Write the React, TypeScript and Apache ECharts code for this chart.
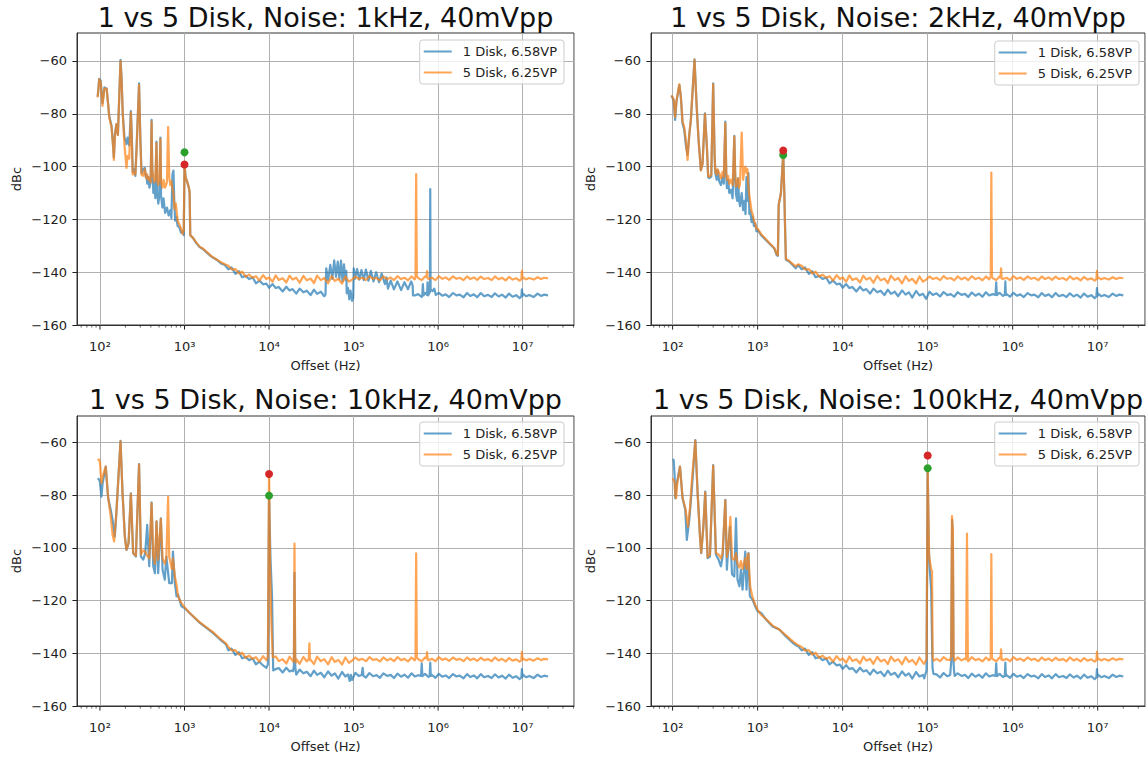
import React, { useEffect, useRef } from 'react';
import * as echarts from 'echarts';

type P = [number, number];

const NAME_1 = '1 Disk, 6.58VP';
const NAME_5 = '5 Disk, 6.25VP';
const BLUE = 'rgba(31,119,180,0.7)';
const ORANGE = 'rgba(255,127,14,0.7)';
const GREEN = '#2ca02c';
const RED = '#d62728';

const TITLES = [
  '1 vs 5 Disk, Noise: 1kHz, 40mVpp',
  '1 vs 5 Disk, Noise: 2kHz, 40mVpp',
  '1 vs 5 Disk, Noise: 10kHz, 40mVpp',
  '1 vs 5 Disk, Noise: 100kHz, 40mVpp',
];
const X_NAME = 'Offset (Hz)';
const Y_NAME = 'dBc';
const Y_TICKS = [-160, -140, -120, -100, -80, -60];
const DECADES = [10, 100, 1000, 10000, 100000, 1000000, 10000000];
const MINOR_MULTS = [2, 3, 4, 5, 6, 7, 8, 9];

const MARKER_FREQ = [1000, 2000, 10000, 100000];
const GREEN_DB = [-94.6, -95.6, -80.2, -69.8];
const RED_DB = [-99.2, -93.9, -72.0, -65.0];

// shared noise floors (3 kHz .. 20 MHz)
const BLUE_FLOOR: P[] = [
  [3000, -137.3], [3300, -138.9], [3600, -138.2], [4000, -140.6], [4400, -139.6], [4800, -141.9], [5300, -141.4], [5800, -142.6], [6400, -142.0], [7000, -144.2], [7700, -143.2], [8500, -144.6], [9300, -144.3], [10000, -145.9],
  [11000, -144.5], [12000, -146.0], [13000, -145.6], [14500, -147.3], [16000, -145.5], [17500, -146.9], [19000, -146.4], [21000, -148.1], [23000, -146.2], [25500, -147.6], [28000, -147.0], [31000, -148.7], [34000, -146.6], [37000, -148.2], [41000, -147.4], [45000, -149.1], [50000, -146.9], [55000, -148.5], [60000, -147.6], [66000, -149.6], [73000, -147.1], [80000, -148.8], [88000, -148.2], [96000, -150.1],
  [105000, -147.4], [115000, -148.6], [127000, -148.0], [140000, -149.2], [154000, -147.5], [170000, -148.7], [187000, -148.3], [205000, -149.3], [225000, -147.6], [250000, -148.6], [275000, -148.2], [300000, -149.4], [330000, -147.7], [365000, -148.9], [400000, -148.1], [440000, -149.3], [485000, -147.6], [530000, -148.8], [580000, -148.3], [640000, -149.4], [700000, -147.8], [770000, -149.0], [850000, -148.3], [930000, -149.3],
  [1020000, -147.8], [1120000, -148.9], [1230000, -148.4], [1350000, -149.4], [1500000, -147.9], [1650000, -148.8], [1800000, -148.5], [2000000, -149.5], [2200000, -147.9], [2400000, -149.0], [2650000, -148.4], [2900000, -149.5], [3200000, -147.9], [3500000, -149.1], [3900000, -148.6], [4300000, -149.4], [4700000, -148.0], [5200000, -149.2], [5700000, -148.5], [6300000, -149.6], [6900000, -148.1], [7600000, -149.3], [8400000, -148.7], [9200000, -149.8],
  [10000000, -148.0], [11000000, -149.1], [12000000, -148.6], [13500000, -149.4], [15000000, -148.1], [16500000, -149.0], [18000000, -148.5], [20000000, -148.8],
];
const ORANGE_FLOOR: P[] = [
  [3000, -137.0], [3300, -137.6], [3600, -138.9], [4000, -138.8], [4400, -140.5], [4800, -139.8], [5300, -141.7], [5800, -140.9], [6400, -142.1], [7000, -141.5], [7700, -143.2], [8500, -141.1], [9300, -142.6], [10000, -142.0],
  [11000, -143.6], [12000, -141.2], [13000, -142.9], [14500, -142.3], [16000, -143.9], [17500, -141.3], [19000, -142.8], [21000, -142.1], [23000, -144.0], [25500, -141.4], [28000, -143.1], [31000, -142.4], [34000, -144.1], [37000, -141.3], [41000, -143.0], [45000, -142.2], [50000, -144.2], [55000, -141.5], [60000, -143.3], [66000, -142.5], [73000, -144.3], [80000, -141.6], [88000, -143.6], [96000, -142.8],
  [105000, -141.6], [115000, -142.6], [127000, -142.1], [140000, -143.0], [154000, -141.5], [170000, -142.5], [187000, -142.2], [205000, -143.1], [225000, -141.6], [250000, -142.7], [275000, -142.0], [300000, -143.0], [330000, -141.5], [365000, -142.6], [400000, -142.1], [440000, -143.1], [485000, -141.6], [530000, -142.7], [580000, -142.2], [640000, -143.0], [700000, -141.6], [770000, -142.6], [850000, -142.1], [930000, -143.0],
  [1020000, -141.5], [1120000, -142.5], [1230000, -142.0], [1350000, -142.9], [1500000, -141.6], [1650000, -142.5], [1800000, -142.1], [2000000, -143.0], [2200000, -141.6], [2400000, -142.6], [2650000, -142.0], [2900000, -142.9], [3200000, -141.7], [3500000, -142.6], [3900000, -142.2], [4300000, -143.0], [4700000, -141.6], [5200000, -142.7], [5700000, -142.1], [6300000, -143.1], [6900000, -141.8], [7600000, -142.8], [8400000, -142.3], [9200000, -143.2],
  [10000000, -141.9], [11000000, -142.7], [12000000, -142.2], [13500000, -142.8], [15000000, -141.9], [16500000, -142.6], [18000000, -142.1], [20000000, -142.3],
];

// low-frequency parts
const LOW1_BLUE: P[] = [
  [94, -73.5], [98, -66.8], [102, -67.5], [107, -76], [113, -70], [120, -70.5], [129, -81], [137, -84.5], [143, -92], [146, -96.5], [150, -88], [156, -84], [163, -88], [175, -59.6], [180, -66], [186, -80], [195, -89], [206, -91.5], [212, -89], [222, -92], [232, -79], [238, -88], [244, -102], [252, -101], [262, -103.5], [270, -94], [290, -68.5], [300, -88], [310, -102.5], [325, -101], [340, -100.5], [348, -104], [355, -103], [362, -106.5], [372, -104], [385, -108], [398, -105.5], [408, -82.3], [415, -100], [428, -110], [440, -106], [452, -112], [466, -90.5], [475, -110], [490, -114], [505, -110.5], [519, -89], [528, -111], [548, -115.5], [565, -112], [590, -117.5], [620, -115.5], [650, -118.5], [680, -116.5], [700, -119.5], [720, -103], [740, -101.5], [755, -112], [775, -120.5], [800, -119], [830, -122.5], [870, -123], [910, -125], [950, -124.5], [980, -126], [1000, -99], [1030, -104], [1080, -106], [1127, -108], [1150, -110], [1170, -126], [1260, -127], [1380, -129], [1510, -130.5], [1650, -131.2], [1850, -132.7], [2100, -134.2], [2400, -135.3], [2700, -136.7],
];
const LOW1_ORANGE: P[] = [
  [94, -73.8], [98, -67], [102, -68], [107, -77], [113, -70.5], [120, -70.5], [129, -81.5], [137, -85], [143, -92.5], [146, -97.5], [150, -89], [156, -84], [163, -88], [175, -60], [180, -67], [186, -80], [195, -92], [206, -100.5], [212, -96], [222, -97], [232, -79.5], [238, -90], [244, -103], [252, -102], [262, -103], [270, -95], [290, -69], [300, -90], [310, -103], [325, -103.5], [340, -101], [348, -103], [355, -104.5], [362, -103], [372, -105], [385, -104], [398, -106], [408, -83], [415, -101], [428, -104], [440, -106], [452, -104], [466, -91], [475, -105], [490, -107], [505, -104], [519, -89.5], [528, -106], [548, -108], [565, -105], [590, -108], [620, -106], [640, -85], [660, -104], [680, -107], [700, -105.5], [720, -108.5], [740, -110], [760, -116], [790, -114], [830, -120.5], [870, -122], [910, -123.5], [950, -125.5], [980, -124], [1000, -99.5], [1030, -104], [1080, -106], [1127, -108], [1150, -110], [1170, -126], [1260, -127], [1380, -128.8], [1510, -130.3], [1650, -131], [1850, -132.5], [2100, -134], [2400, -135.2], [2700, -136.2],
];
const LOW2_BLUE: P[] = [
  [97, -73.1], [103, -75], [107, -82.3], [111, -75.4], [120, -69.1], [125, -73.5], [131, -83.8], [137, -86], [143, -91.8], [150, -95.6], [157, -88], [164, -82.3], [181, -59.4], [192, -77.3], [202, -89.9], [215, -101.3], [225, -98.8], [240, -79.8], [253, -92.4], [262, -104], [270, -104.4], [285, -103.8], [300, -68.5], [312, -96], [318, -102.5], [330, -105], [338, -101.3], [354, -105.7], [370, -107], [387, -103.8], [400, -106.5], [417, -83], [428, -104], [435, -108.2], [450, -105], [464, -110], [485, -108.8], [508, -112], [532, -88.4], [545, -104], [557, -110.6], [575, -113], [588, -104.5], [605, -112.5], [620, -115], [650, -110], [675, -116.5], [700, -113], [720, -118], [740, -104], [760, -113], [780, -102.5], [800, -118], [820, -116.5], [850, -121], [875, -119], [905, -122.5], [935, -121.5], [970, -124.5], [1000, -124], [1100, -126], [1250, -127.8], [1430, -129.7], [1570, -131], [1680, -133.6], [1730, -133.8], [1770, -114.5], [1880, -110], [2000, -95], [2060, -110], [2110, -125], [2150, -135.3], [2300, -135.8], [2450, -136.5], [2800, -138.5],
];
const LOW2_ORANGE: P[] = [
  [97, -73], [103, -74.5], [107, -81.3], [111, -75], [120, -68.8], [125, -73.5], [131, -83], [137, -85], [143, -90], [150, -97.5], [157, -88], [164, -82], [181, -59.6], [192, -77.5], [202, -90], [215, -101.5], [225, -99], [240, -80], [253, -92.5], [262, -103.5], [270, -104], [285, -103], [300, -68.8], [312, -96], [318, -102], [330, -103], [338, -101], [354, -102.5], [370, -104.5], [387, -102], [400, -104], [417, -83.5], [428, -102], [435, -105], [450, -103.5], [464, -106.5], [485, -105], [508, -107], [532, -88.6], [545, -103], [557, -107.6], [575, -106], [588, -104.5], [605, -108], [620, -106.5], [650, -87.1], [675, -105], [700, -101], [720, -100], [740, -102.5], [760, -101], [780, -108], [800, -111], [820, -113.5], [850, -117], [875, -118], [905, -120.5], [935, -121.5], [970, -123.5], [1000, -123.5], [1100, -125.6], [1250, -127.5], [1430, -129.5], [1570, -130.8], [1680, -133.2], [1730, -133.5], [1770, -114.5], [1880, -110], [2000, -95.5], [2060, -110], [2110, -125], [2150, -135], [2300, -135.5], [2450, -136.3], [2800, -137.8],
];
const LOW3_BLUE: P[] = [
  [94, -73.6], [97, -74], [100, -74.9], [104, -80.6], [107.5, -75.5], [117, -69.2], [125, -81.2], [134, -85.6], [141, -89.4], [150, -95.7], [157, -85.6], [175, -59.4], [185, -79.3], [197, -95.7], [206, -100.8], [218, -98.3], [232, -79.3], [247, -102], [266, -103.3], [290, -68.2], [305, -103.3], [325, -104.5], [343, -102], [362, -91.3], [383, -107], [408, -82.8], [427, -107], [447, -109.6], [467, -90], [488, -109.6], [525, -88.8], [550, -108.3], [585, -112.1], [610, -103.3], [660, -113.4], [710, -113.4], [730, -101.4], [770, -113.4], [805, -118.4], [840, -117.8], [920, -122.2], [1000, -122.8], [1150, -124.7], [1520, -128.5], [2170, -132.3], [2600, -134.6], [3100, -136.6],
];
const LOW3_ORANGE: P[] = [
  [94, -66.8], [97, -66.5], [100, -67.5], [104, -75.5], [107.5, -73], [117, -69.2], [125, -81], [134, -88], [141, -95], [147, -97.6], [152, -92], [157, -86], [175, -59.6], [185, -79.5], [197, -96], [206, -100.7], [218, -98], [232, -79.5], [247, -102], [266, -103], [290, -68.3], [305, -102.5], [325, -101], [343, -101.5], [362, -103], [383, -104], [408, -83], [427, -103], [447, -106], [467, -90], [488, -104.5], [525, -89], [550, -104], [585, -106], [610, -103.5], [640, -80.6], [660, -103.5], [710, -108], [730, -104], [770, -111], [805, -114], [840, -118.5], [920, -121], [1000, -122.5], [1150, -124.7], [1520, -128.3], [2170, -132], [2600, -134.3], [3100, -136.3],
];
const LOW4_BLUE: P[] = [
  [100, -66.4], [103, -66.7], [105.6, -73], [107.5, -81.2], [112, -75.5], [122, -69.2], [131, -81.2], [141, -85.6], [147, -97], [157, -89.4], [169, -77], [185, -59.1], [197, -79.3], [210, -95.7], [217, -102], [230, -92], [242, -78.7], [258, -103.9], [275, -103.3], [300, -68.6], [323, -102.5], [347, -104.5], [370, -107], [387, -103.3], [417, -81.8], [435, -108.3], [455, -98.3], [472, -92], [500, -110], [532, -110.9], [557, -88.8], [580, -112.1], [610, -114.6], [636, -108.3], [665, -115.9], [715, -101.4], [740, -115.9], [780, -102], [810, -118.4], [875, -119.7], [935, -122.2], [1000, -124.1], [1100, -124.7], [1250, -127.1], [1500, -129.8], [1800, -131], [2150, -133.6], [2600, -136.1], [2900, -137.2],
];
const LOW4_ORANGE: P[] = [
  [100, -73.6], [103, -74.5], [105.6, -75], [107.5, -80], [110, -81.2], [113, -76], [122, -69.2], [131, -81], [141, -85], [147, -88.8], [152, -92], [160, -85], [169, -74], [185, -59.3], [197, -79.5], [210, -96], [217, -101.8], [230, -92], [242, -79], [258, -103.5], [275, -102.5], [300, -68.8], [323, -102], [347, -102.5], [370, -104], [387, -102], [417, -82], [435, -103.5], [455, -100], [478, -88.3], [500, -104], [532, -104.5], [557, -102], [580, -106], [610, -107.5], [636, -105], [665, -108], [715, -104], [740, -108], [760, -102.5], [780, -102.2], [800, -110], [820, -115], [875, -119], [935, -121.5], [1000, -123.5], [1100, -125.4], [1250, -127], [1500, -129.5], [1800, -131], [2150, -133.2], [2600, -135.5], [2900, -136.6],
];

// spurs / features that replace the floor over their span
const BUMP1_BLUE: P[] = [
  [46500, -148.5], [47500, -138.5], [50000, -143.0], [53000, -137.2], [56000, -142.5], [59000, -135.5], [62000, -141.8], [65000, -136.0], [68000, -142.5], [71000, -135.6], [74000, -143.5], [77000, -137.0], [80000, -142.8], [82000, -139.5], [83000, -148.0], [86000, -146.0], [89000, -150.3], [92000, -147.0], [96000, -150.8], [99000, -149.8],
  [100500, -138.5], [104000, -142.5], [110000, -138.8], [117000, -142.8], [124000, -139.2], [132000, -143.0], [140000, -139.0], [150000, -143.2], [160000, -139.5], [172000, -143.5], [185000, -140.0], [200000, -143.8], [215000, -140.5], [235000, -144.5], [245000, -142.0], [255000, -146.2], [275000, -143.2], [300000, -146.5], [330000, -143.5], [365000, -146.8], [400000, -143.8], [440000, -146.5], [480000, -143.5], [500000, -145.0], [505000, -148.8],
];
const ORANGE_740K: P[] = [[728000, -141.9], [740000, -139.6], [752000, -142.3]];
const ORANGE_10M: P[] = [[9650000, -142.6], [9800000, -139.5], [9950000, -142.4]];
const BLUE_640K: P[] = [[628000, -148.6], [640000, -143.8], [652000, -148.7]];
const BLUE_820K: P[] = [[808000, -148.5], [820000, -143.5], [832000, -148.6]];
const BLUE_10M: P[] = [[9650000, -149.2], [9800000, -146.0], [9950000, -149.0]];

const SPIKES1_BLUE: P[][] = [
  BUMP1_BLUE,
  [[650000, -148.8], [660000, -144.5], [672000, -148.8]],
  [[740000, -148.6], [750000, -143.8], [762000, -148.8]],
  [[800000, -147.5], [807000, -108.5], [815000, -146.5], [860000, -147.2], [900000, -146.2], [940000, -148.6]],
  [[9650000, -149.2], [9800000, -146.5], [9950000, -149.0]],
];
const SPIKES1_ORANGE: P[][] = [
  [[540000, -141.8], [550000, -102.8], [560000, -141.6]],
  ORANGE_740K,
  ORANGE_10M,
];
const SPIKES2_BLUE: P[][] = [BLUE_640K, BLUE_820K, BLUE_10M];
const SPIKES2_ORANGE: P[][] = [
  [[552000, -141.7], [561000, -102.3], [570000, -141.8]],
  [[718000, -142.0], [730000, -138.5], [742000, -142.4]],
  ORANGE_10M,
];
const SPIKES3_BLUE: P[][] = [
  [[9300, -145.5], [9700, -144.2], [10000, -80.2], [10400, -104], [10850, -118.5], [11200, -146.5]],
  [[19300, -146.8], [19700, -144.5], [20000, -109.5], [20400, -144.8], [20800, -147.2]],
  [[86000, -148.0], [90000, -150.5], [93000, -148.2]],
  [[125000, -148.2], [128000, -145.5], [131000, -148.6]],
  BLUE_640K,
  [[795000, -148.5], [807000, -143.5], [819000, -148.6]],
  BLUE_10M,
];
const SPIKES3_ORANGE: P[][] = [
  [[9400, -142.5], [9700, -141.2], [10000, -72], [10300, -108], [10700, -130], [11100, -141.6]],
  [[19300, -143.2], [19700, -141.6], [20000, -98.4], [20400, -141.8], [20800, -143.5]],
  [[29500, -142.2], [30000, -136.2], [30500, -142.6]],
  [[540000, -141.8], [550000, -102.1], [560000, -141.6]],
  ORANGE_740K,
  ORANGE_10M,
];
const SPIKES4_BLUE: P[][] = [
  [[91000, -149.5], [97000, -146.5], [100000, -69.8], [103000, -100], [106000, -108.5], [110000, -116], [114000, -145.5], [117000, -147.8]],
  [[184000, -148.2], [189000, -143.5], [194000, -89.5], [198000, -100], [201000, -142.5], [204000, -146.5], [208000, -148.6]],
  BLUE_640K,
  BLUE_820K,
  BLUE_10M,
];
const SPIKES4_ORANGE: P[][] = [
  [[91000, -144], [97000, -142.3], [100000, -69.8], [104000, -103], [109000, -107.5], [112500, -109], [114500, -141.5], [118000, -142.8]],
  [[184000, -142.5], [189000, -141], [193000, -88], [198000, -93], [202000, -141.2], [207000, -142.8]],
  [[283000, -142.3], [290000, -94.6], [297000, -142.4]],
  [[552000, -141.7], [561000, -102.4], [570000, -141.8]],
  [[718000, -142.0], [730000, -138.5], [742000, -142.4]],
  ORANGE_10M,
];

function build(low: P[], floor: P[], groups: P[][]): P[] {
  const last = low.length ? low[low.length - 1][0] : 0;
  const inside = (x: number) => groups.some((g) => x >= g[0][0] && x <= g[g.length - 1][0]);
  const pts: P[] = low.concat(floor.filter((p) => p[0] > last && !inside(p[0])));
  groups.forEach((g) => g.forEach((p) => pts.push(p)));
  return pts.slice().sort((a, b) => a[0] - b[0]);
}

const BLUE_SERIES = [
  build(LOW1_BLUE, BLUE_FLOOR, SPIKES1_BLUE),
  build(LOW2_BLUE, BLUE_FLOOR, SPIKES2_BLUE),
  build(LOW3_BLUE, BLUE_FLOOR, SPIKES3_BLUE),
  build(LOW4_BLUE, BLUE_FLOOR, SPIKES4_BLUE),
];
const ORANGE_SERIES = [
  build(LOW1_ORANGE, ORANGE_FLOOR, SPIKES1_ORANGE),
  build(LOW2_ORANGE, ORANGE_FLOOR, SPIKES2_ORANGE),
  build(LOW3_ORANGE, ORANGE_FLOOR, SPIKES3_ORANGE),
  build(LOW4_ORANGE, ORANGE_FLOOR, SPIKES4_ORANGE),
];

// layout
const GRIDS = [
  { left: 77, top: 33, width: 497, height: 292 },
  { left: 651, top: 33, width: 494, height: 292 },
  { left: 77, top: 416, width: 497, height: 290 },
  { left: 651, top: 416, width: 494, height: 290 },
];
const X_MIN = [53.5, 55.7, 53.5, 55.7];
const X_MAX = [4.05e7, 3.6e7, 4.05e7, 3.6e7];
const Y_MIN = -160;
const Y_MAX = [-49.4, -49.4, -50, -50];
const LEGEND_POS = [
  { right: 582, top: 40 },
  { right: 7, top: 41 },
  { right: 582, top: 422 },
  { right: 7, top: 422 },
];
const TITLE_POS = [
  { x: 325.5, y: 17 },
  { x: 898, y: 17 },
  { x: 325.5, y: 399 },
  { x: 898, y: 399 },
];

const FONT = '"DejaVu Sans", "Liberation Sans", sans-serif';
const SUP: Record<string, string> = { '0': '⁰', '1': '¹', '2': '²', '3': '³', '4': '⁴', '5': '⁵', '6': '⁶', '7': '⁷', '8': '⁸', '9': '⁹' };

function tickData(i: number): number[][] {
  const out: number[][] = [];
  DECADES.forEach((d) => {
    if (d >= X_MIN[i] && d <= X_MAX[i]) out.push([d, Y_MIN, 1]);
    MINOR_MULTS.forEach((m) => {
      const v = d * m;
      if (v >= X_MIN[i] && v <= X_MAX[i]) out.push([v, Y_MIN, 0]);
    });
  });
  return out;
}

export default function App() {
  const ref = useRef<HTMLDivElement>(null);
  useEffect(() => {
    if (!ref.current) return;
    const chart = echarts.init(ref.current, undefined, { renderer: 'svg' });
    const series: any[] = [];
    for (let i = 0; i < 4; i++) {
      series.push({
        type: 'line', name: NAME_1, xAxisIndex: i, yAxisIndex: i, data: BLUE_SERIES[i],
        showSymbol: false, symbol: 'none', clip: true, z: 2,
        lineStyle: { color: BLUE, width: 2.2, join: 'round' }, itemStyle: { color: BLUE },
      });
      series.push({
        type: 'line', name: NAME_5, xAxisIndex: i, yAxisIndex: i, data: ORANGE_SERIES[i],
        showSymbol: false, symbol: 'none', clip: true, z: 3,
        lineStyle: { color: ORANGE, width: 2.2, join: 'round' }, itemStyle: { color: ORANGE },
      });
      series.push({
        type: 'scatter', xAxisIndex: i, yAxisIndex: i, data: [[MARKER_FREQ[i], GREEN_DB[i]]],
        symbolSize: 8, itemStyle: { color: GREEN, opacity: 1 }, z: 4, silent: true,
      });
      series.push({
        type: 'scatter', xAxisIndex: i, yAxisIndex: i, data: [[MARKER_FREQ[i], RED_DB[i]]],
        symbolSize: 8, itemStyle: { color: RED, opacity: 1 }, z: 5, silent: true,
      });
      series.push({
        type: 'custom', xAxisIndex: i, yAxisIndex: i, data: tickData(i), clip: false, silent: true, z: 6,
        renderItem: (_p: any, api: any) => {
          const pt = api.coord([api.value(0), api.value(1)]);
          const major = api.value(2) === 1;
          return {
            type: 'line',
            shape: { x1: pt[0], y1: pt[1], x2: pt[0], y2: pt[1] + (major ? 4.6 : 2.6) },
            style: { stroke: '#222', lineWidth: major ? 1 : 0.7 },
          };
        },
      });
    }
    const option: any = {
      animation: false,
      backgroundColor: '#ffffff',
      textStyle: { fontFamily: FONT },
      grid: GRIDS.map((g) => ({ ...g, show: true, borderColor: '#333', borderWidth: 1, backgroundColor: 'transparent', containLabel: false })),
      xAxis: GRIDS.map((_g, i) => ({
        type: 'log', gridIndex: i, min: X_MIN[i], max: X_MAX[i], logBase: 10,
        name: X_NAME, nameLocation: 'middle', nameGap: 34,
        nameTextStyle: { fontSize: 13, color: '#222', fontFamily: FONT },
        axisLine: { show: true, lineStyle: { color: '#333', width: 1 } },
        axisTick: { show: false },
        axisLabel: {
          show: true, margin: 15, fontSize: 13, color: '#222', fontFamily: FONT,
          showMinLabel: false, showMaxLabel: false,
          formatter: (v: number) => {
            const e = Math.round(Math.log10(v));
            return '10' + String(e).split('').map((c) => SUP[c] || c).join('');
          },
        },
        splitLine: { show: true, lineStyle: { color: '#b0b0b0', width: 1 } },
        minorTick: { show: false },
      })),
      yAxis: GRIDS.map((_g, i) => ({
        type: 'value', gridIndex: i, min: Y_MIN, max: Y_MAX[i], interval: 20,
        name: Y_NAME, nameLocation: 'middle', nameGap: 54,
        nameTextStyle: { fontSize: 13, color: '#222', fontFamily: FONT },
        axisLine: { show: true, lineStyle: { color: '#333', width: 1 } },
        axisTick: { show: true, length: 4.6, lineStyle: { color: '#222', width: 1 }, customValues: Y_TICKS },
        axisLabel: {
          show: true, margin: 10, fontSize: 13, color: '#222', fontFamily: FONT,
          customValues: Y_TICKS,
          formatter: (v: number) => (v < 0 ? '\u2212' + Math.abs(v) : String(v)),
        },
        splitLine: { show: true, lineStyle: { color: '#b0b0b0', width: 1 } },
      })),
      legend: LEGEND_POS.map((p) => ({
        data: [NAME_1, NAME_5], orient: 'vertical', right: p.right, top: p.top,
        icon: 'rect', itemWidth: 28, itemHeight: 2, itemGap: 8, padding: [5, 7, 5, 4],
        backgroundColor: 'rgba(255,255,255,0.8)', borderColor: '#cccccc', borderWidth: 1, borderRadius: 3,
        selectedMode: false,
        textStyle: { fontSize: 13, color: '#222', fontFamily: FONT, padding: [0, 0, 0, 6] },
      })),
      graphic: TITLES.map((t, i) => ({
        type: 'text', x: TITLE_POS[i].x, y: TITLE_POS[i].y, silent: true,
        style: {
          text: t, fill: '#111', font: '27px "DejaVu Sans", sans-serif',
          align: 'center', verticalAlign: 'middle', textAlign: 'center', textVerticalAlign: 'middle',
        },
      })),
      series,
    };
    chart.setOption(option);
    return () => chart.dispose();
  }, []);
  return <div ref={ref} style={{ position: 'fixed', left: 0, top: 0, width: 1146, height: 757 }} />;
}
